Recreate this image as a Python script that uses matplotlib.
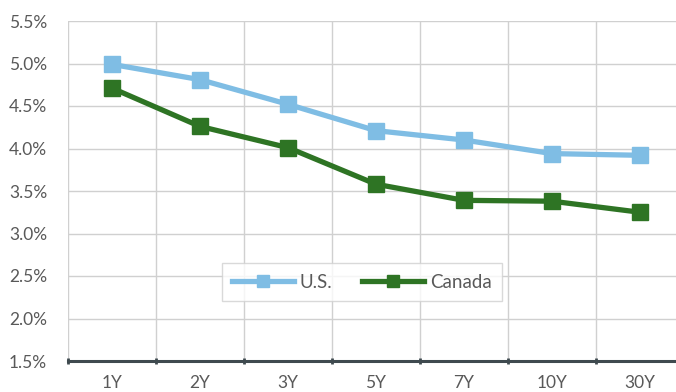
import numpy as np
import matplotlib
matplotlib.use("Agg")
import matplotlib.pyplot as plt
from matplotlib.ticker import FuncFormatter, FixedLocator

# tenors and yields (%)
tenors = ["1Y", "2Y", "3Y", "5Y", "7Y", "10Y", "30Y"]
us_yield = [4.99, 4.81, 4.52, 4.21, 4.10, 3.94, 3.92]
canada_yield = [4.71, 4.26, 4.01, 3.58, 3.39, 3.38, 3.25]

plt.rcParams['font.family'] = ['Lato', 'DejaVu Sans']
textColor = '#595959'

fig = plt.figure(figsize=(6.76, 3.92), dpi=100)
ax = fig.add_axes([68 / 676, 1 - 361 / 392, 616 / 676, 340 / 392])

x = np.arange(1, len(tenors) + 1)
ax.plot(x, us_yield, color='#7fbde4', lw=3.8, marker='s', ms=11.5, label='U.S.', zorder=3)
ax.plot(x, canada_yield, color='#2e7424', lw=3.8, marker='s', ms=11.5, label='Canada', zorder=3)

ax.set_xlim(0.5, len(tenors) + 0.5)
ax.set_ylim(1.5, 5.5)
ax.set_yticks(np.arange(1.5, 5.51, 0.5))
ax.yaxis.set_major_formatter(FuncFormatter(lambda v, p: '%.1f%%' % v))

ax.set_xticks(x)
ax.set_xticklabels(tenors)
ax.xaxis.set_minor_locator(FixedLocator(np.arange(0.5, len(tenors) + 0.6, 1)))

ax.grid(True, which='major', axis='y', color='#d0d0d0', lw=1)
ax.grid(True, which='minor', axis='x', color='#d0d0d0', lw=1)
ax.set_axisbelow(True)

for s in ['top', 'right', 'left']:
    ax.spines[s].set_visible(False)
ax.spines['bottom'].set_color('#3f4a4f')
ax.spines['bottom'].set_linewidth(2.2)
ax.spines['bottom'].set_zorder(4)

ax.tick_params(axis='y', length=0, pad=15, labelsize=12.5, labelcolor=textColor)
ax.tick_params(axis='x', which='major', length=0, pad=10, labelsize=12.5, labelcolor=textColor)
ax.tick_params(axis='x', which='minor', length=5, width=2, direction='inout', color='#3f4a4f')

leg = ax.legend(loc='center', bbox_to_anchor=(0.477, 0.232), ncol=2, frameon=True,
                fancybox=False, fontsize=13.5, handlelength=3.3, handletextpad=0.3,
                columnspacing=1.6, borderpad=0.55, labelcolor=textColor)
leg.get_frame().set_edgecolor('#d0d0d0')
leg.get_frame().set_linewidth(1)
for h in leg.legend_handles:
    h.set_markersize(8)

fig.savefig('out.png', dpi=100)
